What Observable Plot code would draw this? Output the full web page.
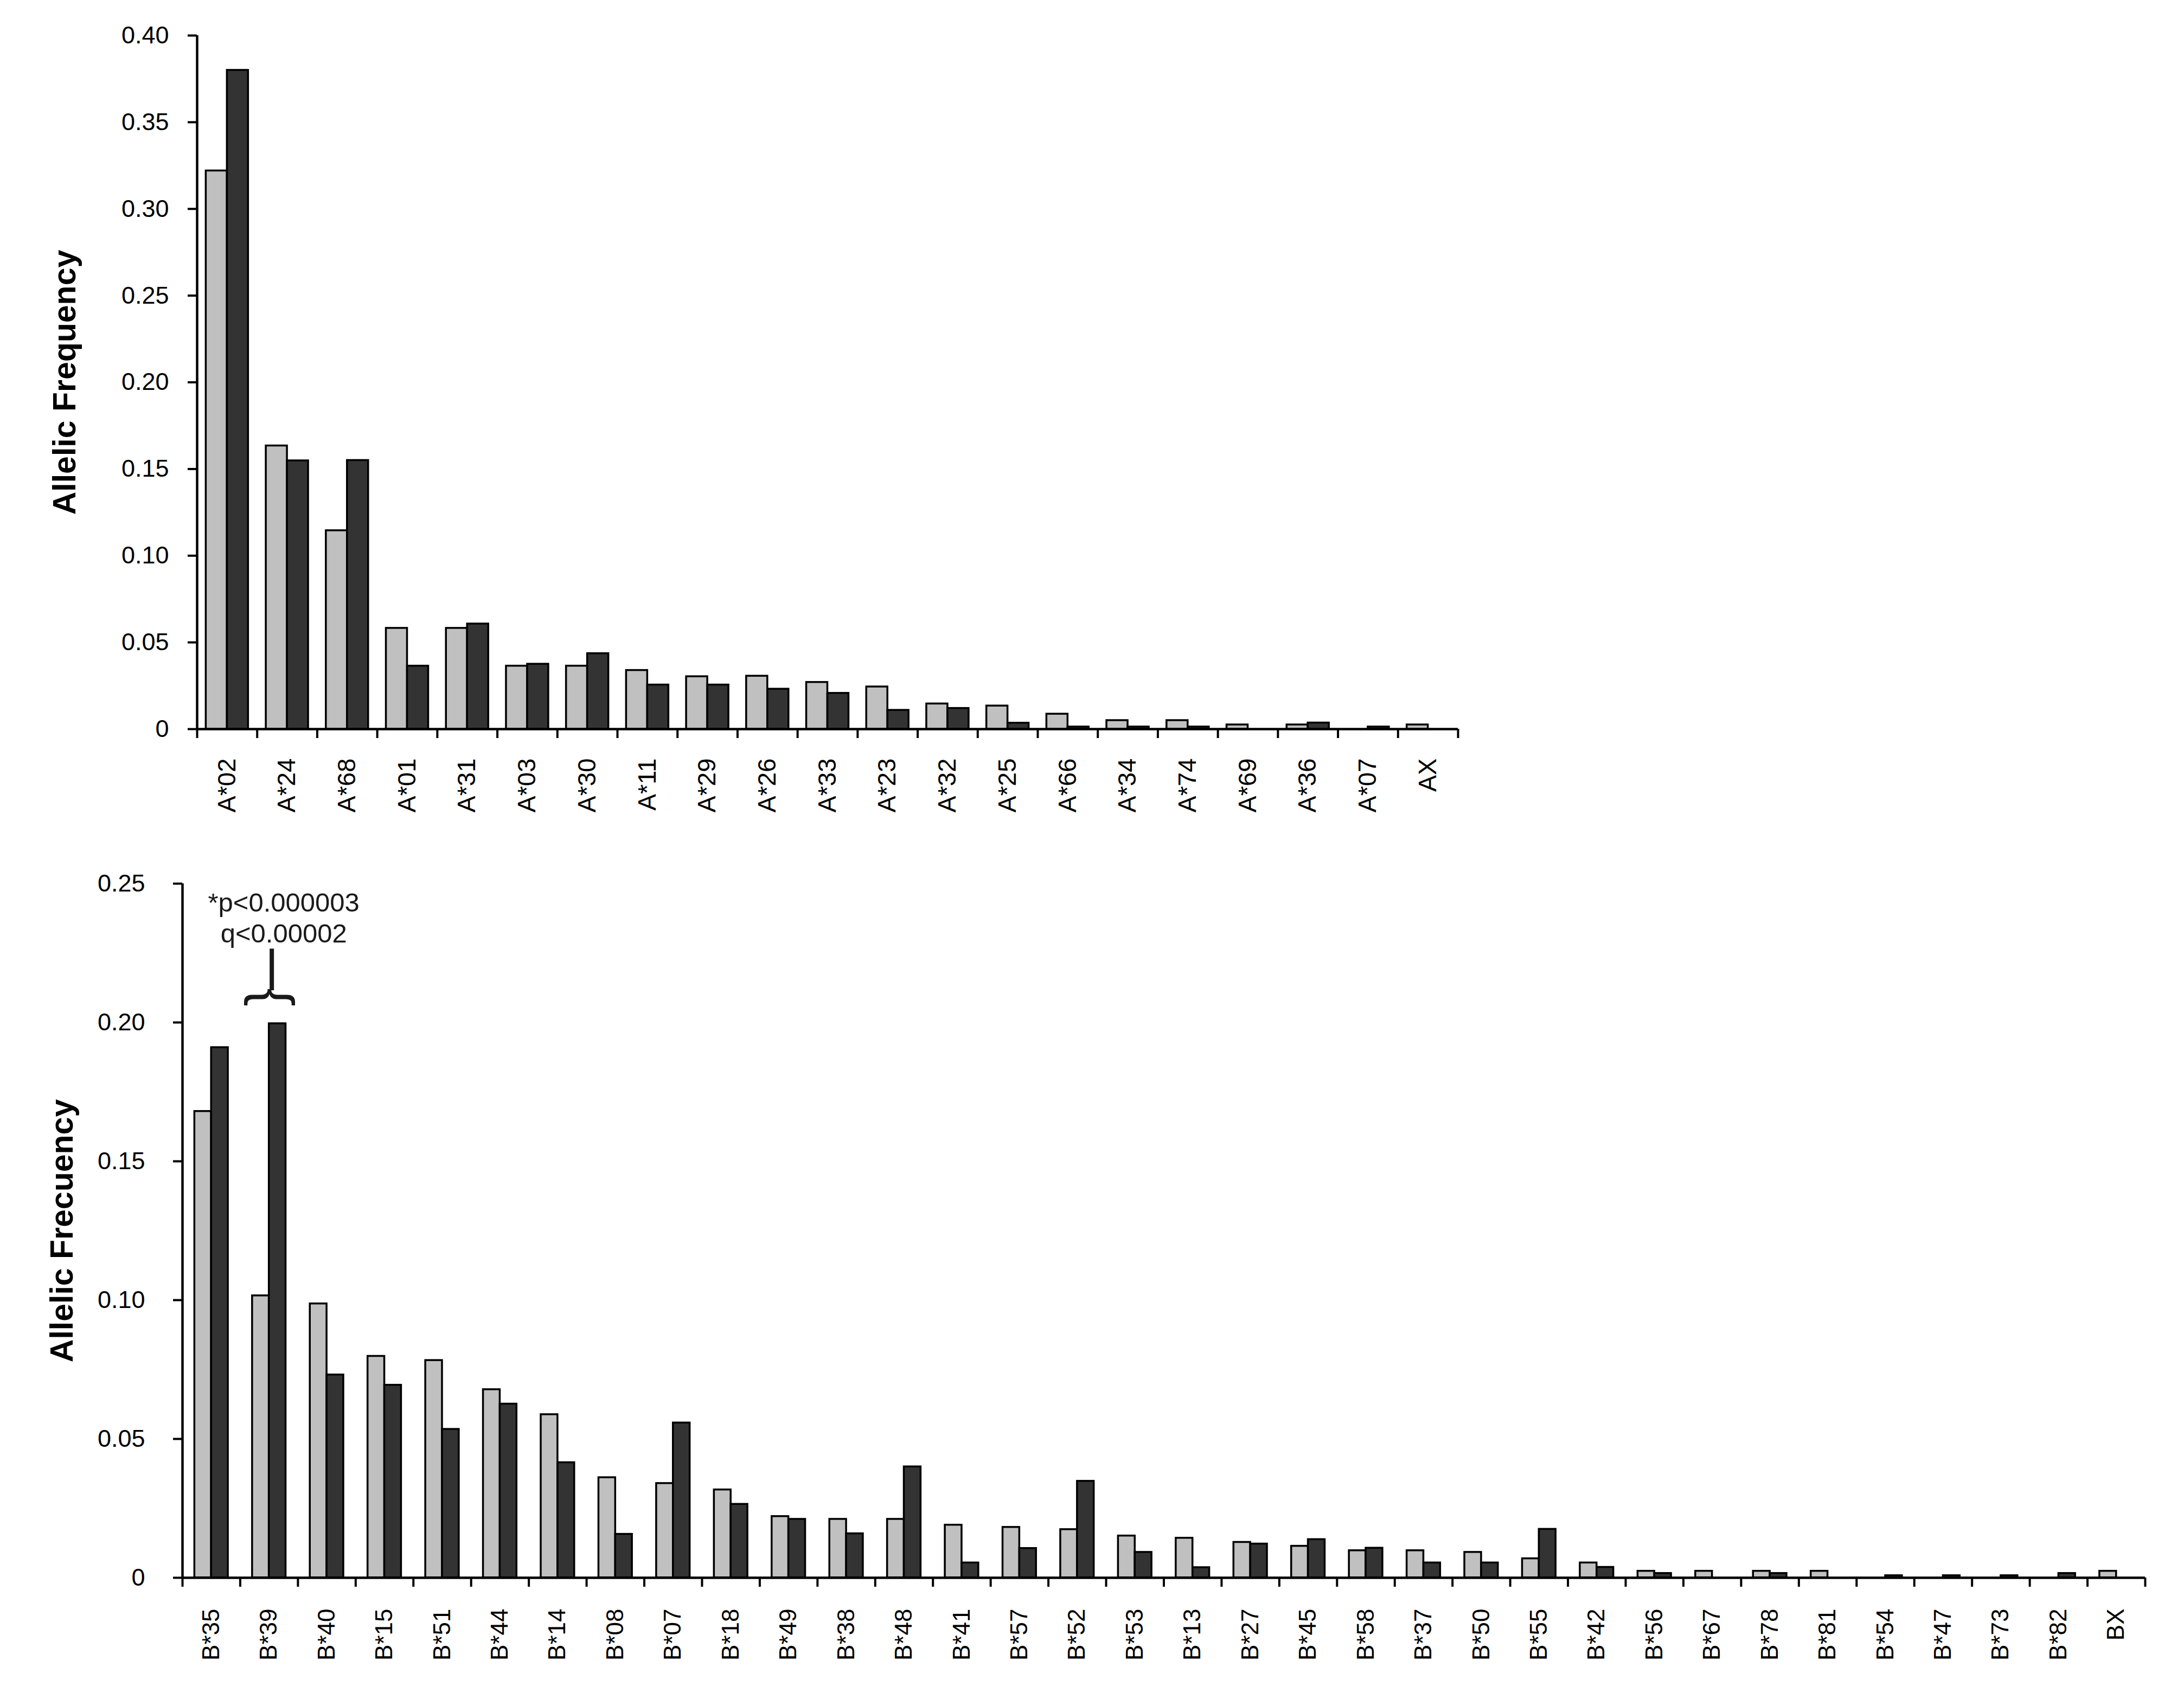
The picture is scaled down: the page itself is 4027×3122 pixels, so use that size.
<!DOCTYPE html>
<html>
<head>
<meta charset="utf-8">
<script src="https://cdn.jsdelivr.net/npm/d3@7"></script>
<script src="https://cdn.jsdelivr.net/npm/@observablehq/plot@0.6"></script>
<style>
html, body { margin: 0; padding: 0; background: #fff; }
#page { position: relative; width: 4027px; height: 3122px; background: #fff; overflow: hidden; font-family: "Liberation Sans", Arial, sans-serif; }
#top { position: absolute; left: 0; top: 0; }
#bottom { position: absolute; left: 0; top: 1560px; }
</style>
</head>
<body>
<div id="page"><div id="top"></div><div id="bottom"></div></div>
<script>
// ---- HLA-A ----
const hlaA = ["A*02","A*24","A*68","A*01","A*31","A*03","A*30","A*11","A*29","A*26","A*33","A*23","A*32","A*25","A*66","A*34","A*74","A*69","A*36","A*07","AX"];
const hlaA_light = [0.322,0.1634,0.1145,0.0582,0.0582,0.0364,0.0364,0.0339,0.0303,0.0306,0.0270,0.0244,0.0146,0.0134,0.0087,0.0050,0.0050,0.0025,0.0025,0,0.0025];
const hlaA_dark  = [0.380,0.1548,0.1550,0.0364,0.0607,0.0375,0.0436,0.0255,0.0255,0.0231,0.0207,0.0109,0.0120,0.0035,0.0013,0.0013,0.0013,0,0.0036,0.0013,0];
const hlaA_yTicks = [0,0.05,0.10,0.15,0.20,0.25,0.30,0.35,0.40];
const hlaA_yLabel = "Allelic Frequency";

// ---- HLA-B ----
const hlaB = ["B*35","B*39","B*40","B*15","B*51","B*44","B*14","B*08","B*07","B*18","B*49","B*38","B*48","B*41","B*57","B*52","B*53","B*13","B*27","B*45","B*58","B*37","B*50","B*55","B*42","B*56","B*67","B*78","B*81","B*54","B*47","B*73","B*82","BX"];
const hlaB_light = [0.168,0.1016,0.0987,0.0798,0.0783,0.0678,0.0588,0.0361,0.0340,0.0317,0.0221,0.0211,0.0211,0.0190,0.0182,0.0174,0.0151,0.0143,0.0128,0.0114,0.0098,0.0098,0.0092,0.0069,0.0054,0.0024,0.0024,0.0024,0.0024,0,0,0,0,0.0024];
const hlaB_dark  = [0.191,0.1996,0.0731,0.0694,0.0535,0.0626,0.0415,0.0157,0.0558,0.0265,0.0211,0.0159,0.0400,0.0054,0.0106,0.0348,0.0092,0.0037,0.0122,0.0138,0.0107,0.0054,0.0054,0.0175,0.0038,0.0016,0,0.0016,0,0.0008,0.0008,0.0008,0.0016,0];
const hlaB_yTicks = [0,0.05,0.10,0.15,0.20,0.25];
const hlaB_yLabel = "Allelic Frecuency";

const annotationLines = ["*p<0.000003", "q<0.00002"];
const annotatedAllele = "B*39";

const FONT = "'Liberation Sans', Arial, Helvetica, sans-serif";
const LIGHT = "#c0c0c0", DARK = "#333333";

function chart(o) {
  const rows = o.alleles.map((a, i) => ({allele: a, light: o.light[i], dark: o.dark[i]}));
  const bw = (o.width - o.marginLeft - o.marginRight) / o.alleles.length;
  const barW = bw * o.barFrac;
  const gap = (bw - 2 * barW) / 2;
  const yMax = o.yTicks[o.yTicks.length - 1];
  const last = o.alleles[o.alleles.length - 1];
  return Plot.plot({
    width: o.width, height: o.height,
    marginLeft: o.marginLeft, marginRight: o.marginRight, marginTop: o.marginTop, marginBottom: o.marginBottom,
    style: {fontFamily: FONT, color: "black", background: "white", overflow: "visible"},
    x: {type: "band", domain: o.alleles, padding: 0, round: false},
    y: {domain: [0, yMax]},
    marks: [
      Plot.barY(rows.filter(d => d.light > 0), {x: "allele", y: "light", fill: LIGHT, stroke: "black", strokeWidth: 3.5, insetLeft: gap, insetRight: bw / 2}),
      Plot.barY(rows.filter(d => d.dark > 0), {x: "allele", y: "dark", fill: DARK, stroke: "black", strokeWidth: 3.5, insetLeft: bw / 2, insetRight: gap}),
      Plot.ruleY([0], {strokeWidth: 4.5}),
      Plot.ruleX([o.alleles[0]], {x: d => d, y1: 0, y2: yMax, dx: -bw / 2, strokeWidth: 4.5}),
      Plot.ruleX(o.alleles, {x: d => d, y1: 0, y2: 0, dx: -bw / 2, insetBottom: -17, strokeWidth: 4}),
      Plot.ruleX([last], {x: d => d, y1: 0, y2: 0, dx: bw / 2, insetBottom: -17, strokeWidth: 4}),
      Plot.axisY({ticks: o.yTicks, tickSize: 17, tickPadding: o.tickPadY, fontSize: 45, strokeWidth: 4,
                  tickFormat: d => d === 0 ? "0" : d.toFixed(2), label: null}),
      Plot.axisX({tickSize: 0, tickRotate: -90, tickPadding: o.tickPadX, fontSize: o.xFont, label: null}),
      Plot.text([o.yLabel], {text: d => d, frameAnchor: "left", textAnchor: "middle", rotate: -90, dx: -o.titleOffset,
                             fontSize: 59, fontWeight: "bold"}),
      ...(o.extra || [])
    ]
  });
}

document.getElementById("top").appendChild(chart({
  alleles: hlaA, light: hlaA_light, dark: hlaA_dark, yTicks: hlaA_yTicks, yLabel: hlaA_yLabel,
  width: 2760, height: 1560, marginLeft: 363, marginRight: 72, marginTop: 65, marginBottom: 216,
  barFrac: 0.352, tickPadY: 35, tickPadX: 54, xFont: 46, titleOffset: 243
}));

document.getElementById("bottom").appendChild(chart({
  alleles: hlaB, light: hlaB_light, dark: hlaB_dark, yTicks: hlaB_yTicks, yLabel: hlaB_yLabel,
  width: 4027, height: 1562, marginLeft: 336, marginRight: 72, marginTop: 69, marginBottom: 213,
  barFrac: 0.29, tickPadY: 52, tickPadX: 57, xFont: 44, titleOffset: 221,
  extra: [
    Plot.text([annotationLines.join("\n")], {x: () => annotatedAllele, y: () => 0.2289, text: d => d,
      fontSize: 49, lineHeight: 1.16, lineAnchor: "bottom", dx: 27, fill: "#1a1a1a"}),
    Plot.text(["{"], {x: () => annotatedAllele, y: () => 0.2091, text: d => d, rotate: 90, fontSize: 100, dx: 7, fill: "#1a1a1a"}),
    Plot.ruleX([annotatedAllele], {x: d => d, y1: 0.2115, y2: 0.2265, strokeWidth: 8, dx: 5, stroke: "#1a1a1a"})
  ]
}));
</script>
</body>
</html>
